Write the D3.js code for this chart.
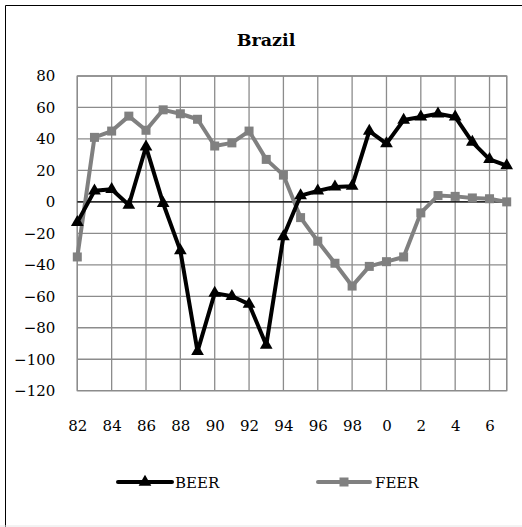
<!DOCTYPE html>
<html><head><meta charset="utf-8">
<script src="https://cdn.jsdelivr.net/npm/d3@7"></script>
<style>
body{margin:0;background:#fff}
svg{display:block}
</style>
</head><body><svg id="c" width="522" height="527"></svg>
<script>
const years = d3.range(1982, 2008);
const beer = [-13, 7, 8, -2, 35, -1, -31, -95, -58, -60, -65, -91, -22, 4, 7, 9.5, 10, 45, 37, 52, 54, 56, 54, 38, 27, 23];
const feer = [-35, 41, 45, 54.5, 45.5, 58.5, 56, 52.5, 35.5, 37.5, 45, 27, 17, -10, -25, -39, -53.5, -41, -38, -35, -7, 4, 3.5, 2.5, 2, 0];
const yTicks = d3.range(-120, 81, 20);
const xTickYears = d3.range(1982, 2007, 2);
const xLabel = y => String(y % 100);

const FONT = "DejaVu Serif";
const svg = d3.select("#c");
const L = 77.3, R = 506.7, T = 76, B = 390.7;
const x = d3.scaleLinear().domain([1982, 2007]).range([L, R]);
const y = d3.scaleLinear().domain([-120, 80]).range([B, T]);

function txt(sel, size, bold) {
  return sel.attr("font-family", FONT).style("font-family", FONT)
    .style("font-size", size + "px").style("font-weight", bold ? "bold" : "normal").attr("fill", "#000");
}

svg.append("path").attr("d", "M5.5,527 V5.5 H522").attr("fill", "none").attr("stroke", "#000").attr("stroke-width", 1);
svg.append("line").attr("x1", 0).attr("x2", 522).attr("y1", 526).attr("y2", 526).attr("stroke", "#e6e6e6");

txt(svg.append("text").attr("x", 266).attr("y", 45.5).attr("text-anchor", "middle"), 17.5, true).text("Brazil");

const grid = svg.append("g").attr("stroke", "#8c8c8c").attr("stroke-width", 1.3);
yTicks.forEach(t => grid.append("line").attr("x1", L).attr("x2", R).attr("y1", y(t)).attr("y2", y(t)));
xTickYears.concat([2007]).forEach(t => grid.append("line").attr("x1", x(t)).attr("x2", x(t)).attr("y1", T).attr("y2", B));
grid.append("rect").attr("x", L).attr("y", T).attr("width", R - L).attr("height", B - T).attr("fill", "none");

const yAxis = svg.append("g").attr("transform", `translate(${L},0)`)
  .call(d3.axisLeft(y).tickValues(yTicks).tickSize(0).tickPadding(22).tickFormat(d3.format("d")));
yAxis.attr("font-family", null).attr("font-size", null);
yAxis.select(".domain").remove();
txt(yAxis.selectAll("text"), 15, false);

const xAxis = svg.append("g").attr("transform", `translate(0,${B})`)
  .call(d3.axisBottom(x).tickValues(xTickYears).tickSize(0).tickPadding(30).tickFormat(xLabel));
xAxis.attr("font-family", null).attr("font-size", null);
xAxis.select(".domain").remove();
txt(xAxis.selectAll("text"), 15, false);

svg.append("line").attr("x1", L).attr("x2", R).attr("y1", y(0)).attr("y2", y(0)).attr("stroke", "#000").attr("stroke-width", 1.2);

const line = d3.line().x((d, i) => x(years[i])).y(d => y(d));
const GREY = "#808080";

svg.append("path").datum(feer).attr("d", line).attr("fill", "none").attr("stroke", GREY).attr("stroke-width", 4).attr("stroke-linejoin", "round");
svg.append("g").selectAll("rect").data(feer).join("rect")
  .attr("x", (d, i) => x(years[i]) - 4.5).attr("y", d => y(d) - 4.5).attr("width", 9).attr("height", 9).attr("fill", GREY);

svg.append("path").datum(beer).attr("d", line).attr("fill", "none").attr("stroke", "#000").attr("stroke-width", 4).attr("stroke-linejoin", "round");
const tri = d3.symbol().type(d3.symbolTriangle).size(70);
svg.append("g").selectAll("path").data(beer).join("path")
  .attr("d", tri).attr("transform", (d, i) => `translate(${x(years[i])},${y(d)})`).attr("fill", "#000");

const lg = svg.append("g");
const ly = 482;
lg.append("line").attr("x1", 118).attr("x2", 172).attr("y1", ly).attr("y2", ly).attr("stroke", "#000").attr("stroke-width", 4).attr("stroke-linecap", "round");
lg.append("path").attr("d", tri).attr("transform", `translate(145,${ly})`).attr("fill", "#000");
txt(lg.append("text").attr("x", 175).attr("y", ly + 6), 15, false).text("BEER");
lg.append("line").attr("x1", 318).attr("x2", 370).attr("y1", ly).attr("y2", ly).attr("stroke", GREY).attr("stroke-width", 4).attr("stroke-linecap", "round");
lg.append("rect").attr("x", 339.5).attr("y", ly - 4.5).attr("width", 9).attr("height", 9).attr("fill", GREY);
txt(lg.append("text").attr("x", 375).attr("y", ly + 6), 15, false).text("FEER");
</script></body></html>
